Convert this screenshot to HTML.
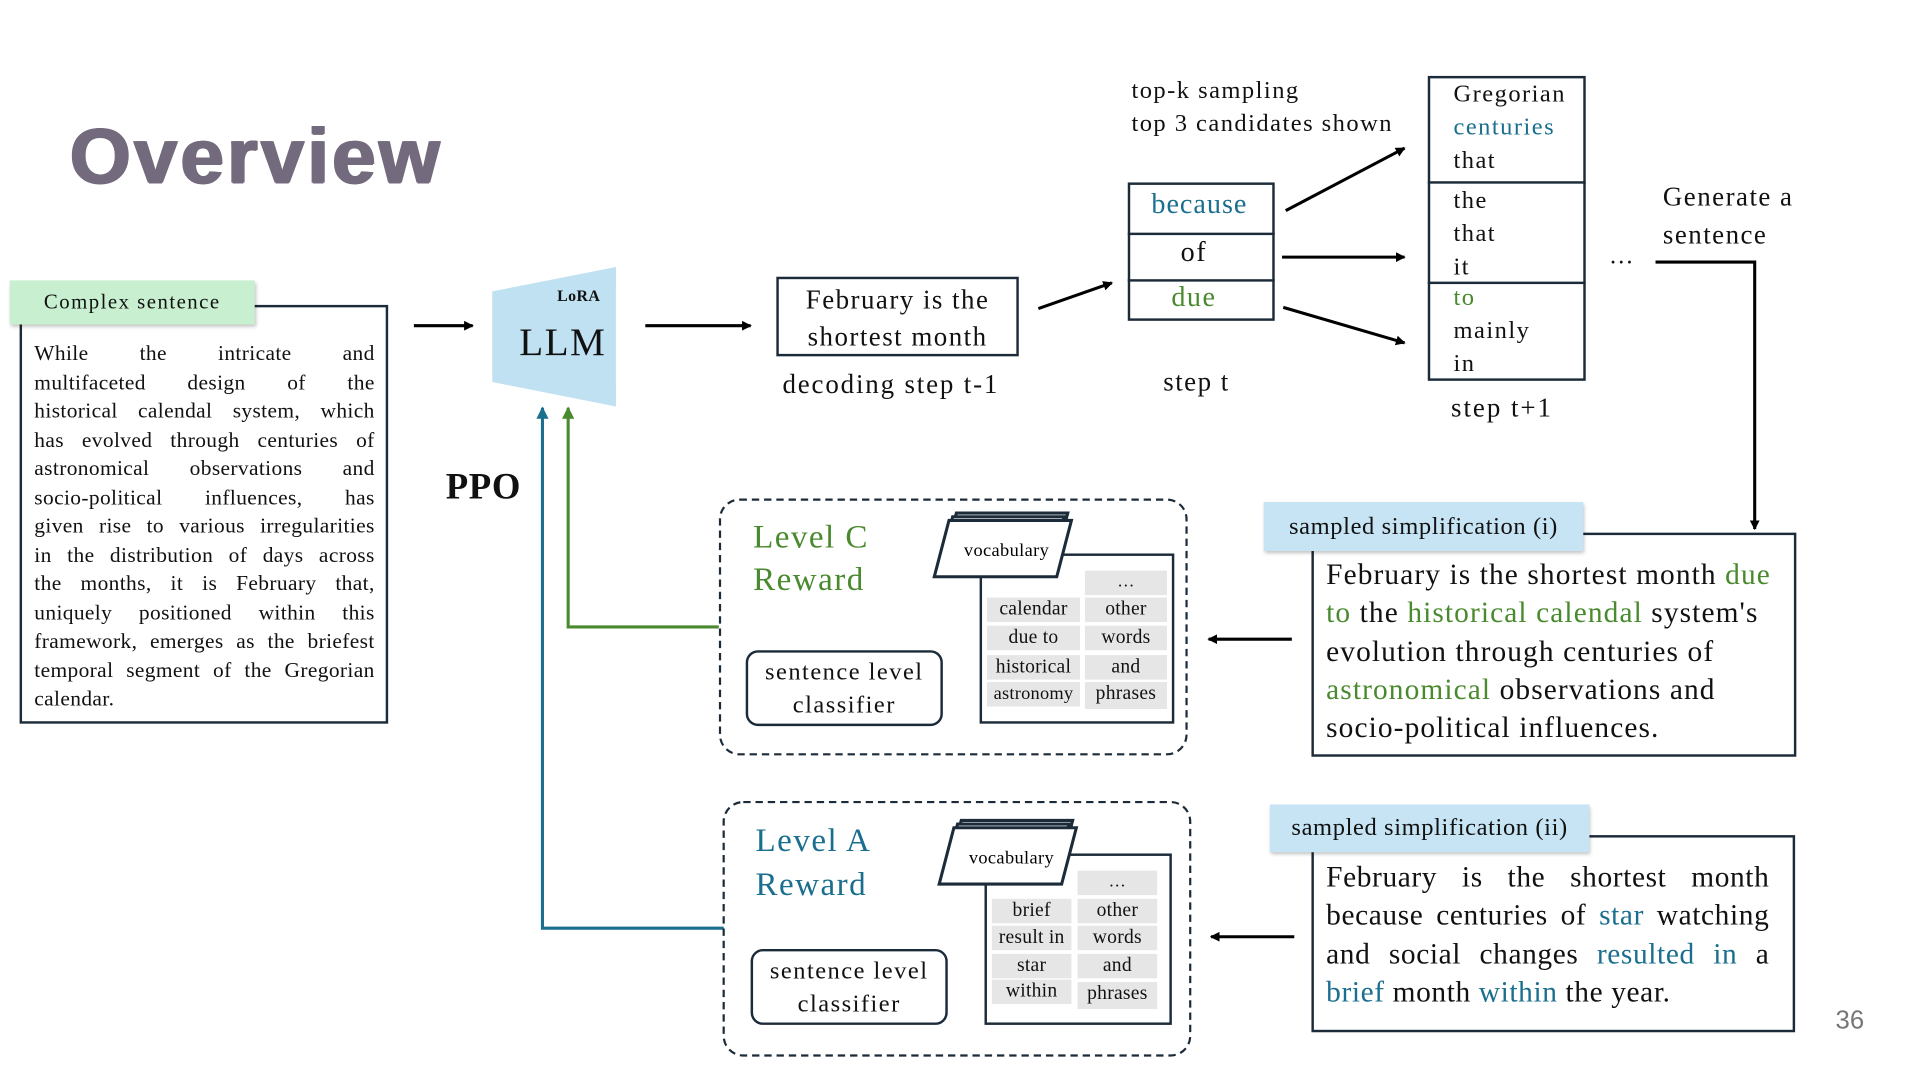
<!DOCTYPE html>
<html><head><meta charset="utf-8"><style>
html,body{margin:0;padding:0;background:#fff;}
body{width:1920px;height:1080px;overflow:hidden;position:relative;}
#c{position:absolute;left:0;top:0;width:1568px;height:882px;transform:scale(1.2245);transform-origin:0 0;font-family:"Liberation Serif",serif;color:#111;letter-spacing:1.2px;}
.a{position:absolute;white-space:nowrap;}
.t{color:#1a6e8e}.g{color:#4a8a2e}
.box{position:absolute;border:3px solid #1c2b39;box-sizing:border-box;background:#fff;}
.cell{position:absolute;background:#e6e6e6;font-size:16px;text-align:center;line-height:20px;height:20px;letter-spacing:0.2px;}
.j div{text-align:justify;text-align-last:justify;white-space:nowrap;}
.j div.l{text-align-last:left;}
</style></head><body><div id="c">
<div class="a" style="left:57px;top:90px;font-family:'Liberation Sans',sans-serif;font-weight:bold;font-size:64px;color:#736a7d;letter-spacing:2.5px;text-shadow:1px 0 #736a7d,-1px 0 #736a7d,0 1px #736a7d">Overview</div>

<svg class="a" style="left:0;top:0" width="1568" height="882">
<defs>
<marker id="k" markerWidth="8" markerHeight="8" refX="7" refY="4" orient="auto" markerUnits="userSpaceOnUse"><path d="M0,0 L8,4 L0,8z" fill="#000"/></marker>
<marker id="gm" markerWidth="10" markerHeight="10" refX="9" refY="5" orient="auto" markerUnits="userSpaceOnUse"><path d="M0,0 L10,5 L0,10z" fill="#4a8a2e"/></marker>
<marker id="bm" markerWidth="10" markerHeight="10" refX="9" refY="5" orient="auto" markerUnits="userSpaceOnUse"><path d="M0,0 L10,5 L0,10z" fill="#1a6e8e"/></marker>
</defs>
<polygon points="402,238 503,218 503,332 402,312" fill="#bfe1f2"/>
<g stroke="#000" stroke-width="2.5" fill="none" marker-end="url(#k)">
<line x1="338" y1="266" x2="386" y2="266"/>
<line x1="527" y1="266" x2="613" y2="266"/>
<line x1="848" y1="252" x2="908" y2="231"/>
<line x1="1050" y1="172" x2="1147" y2="121"/>
<line x1="1047" y1="210" x2="1147" y2="210"/>
<line x1="1048" y1="251" x2="1147" y2="280"/>
<polyline points="1352,214 1433,214 1433,432"/>
<line x1="1055" y1="522" x2="987" y2="522"/>
<line x1="1057" y1="765" x2="989" y2="765"/>
</g>
<polyline points="587,512 464,512 464,333" stroke="#4a8a2e" stroke-width="2.5" fill="none" marker-end="url(#gm)"/>
<polyline points="591,758 443,758 443,333" stroke="#1a6e8e" stroke-width="2.5" fill="none" marker-end="url(#bm)"/>
<rect x="588" y="408" width="381" height="208" rx="16" fill="none" stroke="#1c2b39" stroke-width="1.8" stroke-dasharray="6,4"/>
<rect x="591" y="655" width="381" height="207" rx="16" fill="none" stroke="#1c2b39" stroke-width="1.8" stroke-dasharray="6,4"/>
</svg>

<div class="box" style="left:16px;top:249px;width:301px;height:342px;border-width:2.5px"></div>
<div class="a j" style="left:28px;top:277px;width:278px;font-size:17.5px;line-height:23.5px;letter-spacing:0.3px">
<div>While the intricate and</div><div>multifaceted design of the</div><div>historical calendal system, which</div><div>has evolved through centuries of</div><div>astronomical observations and</div><div>socio-political influences, has</div><div>given rise to various irregularities</div><div>in the distribution of days across</div><div>the months, it is February that,</div><div>uniquely positioned within this</div><div>framework, emerges as the briefest</div><div>temporal segment of the Gregorian</div><div class="l">calendar.</div></div>
<div class="a" style="left:8px;top:229px;width:200px;height:36px;background:#c8efcf;font-size:17px;line-height:36px;text-align:center;box-shadow:1px 2px 3px rgba(0,0,0,.25)">Complex sentence</div>

<div class="a" style="left:455px;top:234px;font-size:13px;font-weight:bold;letter-spacing:0.3px">LoRA</div>
<div class="a" style="left:424px;top:261px;font-size:32px">LLM</div>
<div class="a" style="left:364px;top:381px;font-size:30px;font-weight:bold;letter-spacing:0.5px">PPO</div>

<div class="box" style="left:634px;top:226px;width:198px;height:65px;border-width:2px;font-size:22px;line-height:30px;text-align:center;padding-top:2px">February is the<br>shortest month</div>
<div class="a" style="left:639px;top:301px;font-size:22px;letter-spacing:1.5px">decoding step t-1</div>

<div class="a" style="left:924px;top:61px;font-size:20px;line-height:27px">top-k sampling<br>top 3 candidates shown</div>
<div class="box" style="left:921px;top:149px;width:120px;height:113px;border-width:2px"></div>
<div class="a" style="left:921px;top:190px;width:120px;border-top:2px solid #1c2b39"></div>
<div class="a" style="left:921px;top:228px;width:120px;border-top:2px solid #1c2b39"></div>
<div class="a t" style="left:921px;top:154px;width:117px;text-align:center;font-size:23px;letter-spacing:0.8px">because</div>
<div class="a" style="left:921px;top:193px;width:108px;text-align:center;font-size:23px">of</div>
<div class="a g" style="left:921px;top:230px;width:108px;text-align:center;font-size:23px">due</div>
<div class="a" style="left:950px;top:299px;font-size:22px">step t</div>

<div class="box" style="left:1166px;top:62px;width:129px;height:249px;border-width:2px"></div>
<div class="a" style="left:1166px;top:148px;width:129px;border-top:2px solid #1c2b39"></div>
<div class="a" style="left:1166px;top:230px;width:129px;border-top:2px solid #1c2b39"></div>
<div class="a" style="left:1187px;top:64px;font-size:20px;line-height:27px">Gregorian<br><span class="t">centuries</span><br>that</div>
<div class="a" style="left:1187px;top:151px;font-size:20px;line-height:27px">the<br>that<br>it</div>
<div class="a" style="left:1187px;top:230px;font-size:20px;line-height:27px"><span class="g">to</span><br>mainly<br>in</div>
<div class="a" style="left:1185px;top:320px;font-size:22px;letter-spacing:1.6px">step t+1</div>
<div class="a" style="left:1314px;top:198px;font-size:20px">…</div>
<div class="a" style="left:1358px;top:145px;font-size:22px;line-height:31px">Generate a<br>sentence</div>

<div class="a g" style="left:615px;top:421px;font-size:27px;line-height:35px">Level C<br>Reward</div>
<div class="box" style="left:609px;top:531px;width:161px;height:62px;border-radius:10px;border-width:2.5px;font-size:20px;line-height:27px;text-align:center;padding-top:3px">sentence level<br>classifier</div>
<div class="box" style="left:800px;top:452px;width:159px;height:139px;border-width:2.5px"></div>
<div class="cell" style="left:886px;top:466px;width:67px;font-size:14px">…</div>
<div class="cell" style="left:806px;top:488px;width:76px">calendar</div>
<div class="cell" style="left:886px;top:488px;width:67px">other</div>
<div class="cell" style="left:806px;top:511px;width:76px">due to</div>
<div class="cell" style="left:886px;top:511px;width:67px">words</div>
<div class="cell" style="left:806px;top:535px;width:76px">historical</div>
<div class="cell" style="left:886px;top:535px;width:67px">and</div>
<div class="cell" style="left:806px;top:557px;width:76px;font-size:15px">astronomy</div>
<div class="cell" style="left:886px;top:557px;width:67px;height:22px">phrases</div>

<div class="a t" style="left:617px;top:668px;font-size:27px;line-height:36px">Level A<br>Reward</div>
<div class="box" style="left:613px;top:775px;width:161px;height:62px;border-radius:10px;border-width:2.5px;font-size:20px;line-height:27px;text-align:center;padding-top:3px">sentence level<br>classifier</div>
<div class="box" style="left:804px;top:697px;width:153px;height:140px;border-width:2.5px"></div>
<div class="cell" style="left:880px;top:711px;width:65px;font-size:14px">…</div>
<div class="cell" style="left:810px;top:734px;width:65px">brief</div>
<div class="cell" style="left:880px;top:734px;width:65px">other</div>
<div class="cell" style="left:810px;top:756px;width:65px">result in</div>
<div class="cell" style="left:880px;top:756px;width:65px">words</div>
<div class="cell" style="left:810px;top:779px;width:65px">star</div>
<div class="cell" style="left:880px;top:779px;width:65px">and</div>
<div class="cell" style="left:810px;top:800px;width:65px">within</div>
<div class="cell" style="left:880px;top:802px;width:65px;height:22px">phrases</div>

<svg class="a" style="left:0;top:0" width="1568" height="882">
<g stroke="#1c2b39" stroke-width="2.5" fill="#fff">
<polygon points="781,419 872,419 860,465 769,465"/>
<polygon points="778,422 869,422 857,468 766,468"/>
<polygon points="775,425 875,425 863,471 763,471"/>
<polygon points="785,670 876,670 864,716 773,716"/>
<polygon points="782,673 873,673 861,719 770,719"/>
<polygon points="779,676 879,676 867,722 767,722"/>
</g>
<text x="822" y="454" font-size="15" text-anchor="middle" font-family="Liberation Serif" letter-spacing="0.3">vocabulary</text>
<text x="826" y="705" font-size="15" text-anchor="middle" font-family="Liberation Serif" letter-spacing="0.3">vocabulary</text>
</svg>

<div class="box" style="left:1071px;top:435px;width:396px;height:183px;border-width:2.5px"></div>
<div class="a" style="left:1083px;top:455px;font-size:24px;line-height:31.3px;letter-spacing:0.9px">February is the shortest month <span class="g">due</span><br><span class="g">to</span> the <span class="g">historical calendal</span> system's<br>evolution through centuries of<br><span class="g">astronomical</span> observations and<br>socio-political influences.</div>
<div class="a" style="left:1032px;top:410px;width:261px;height:40px;background:#c6e4f4;font-size:20px;line-height:40px;text-align:center;letter-spacing:0.5px;box-shadow:1px 2px 3px rgba(0,0,0,.25)">sampled simplification (i)</div>

<div class="box" style="left:1071px;top:682px;width:395px;height:161px;border-width:2.5px"></div>
<div class="a j" style="left:1083px;top:702px;width:362px;font-size:24px;line-height:31.3px;letter-spacing:0.5px">
<div>February is the shortest month</div><div>because centuries of <span class="t">star</span> watching</div><div>and social changes <span class="t">resulted in</span> a</div><div class="l"><span class="t">brief</span> month <span class="t">within</span> the year.</div></div>
<div class="a" style="left:1037px;top:657px;width:261px;height:39px;background:#c6e4f4;font-size:20px;line-height:39px;text-align:center;letter-spacing:0.5px;box-shadow:1px 2px 3px rgba(0,0,0,.25)">sampled simplification (ii)</div>

<div class="a" style="left:1499px;top:822px;font-family:'Liberation Sans',sans-serif;font-size:21px;color:#777;letter-spacing:0">36</div>
</div></body></html>
